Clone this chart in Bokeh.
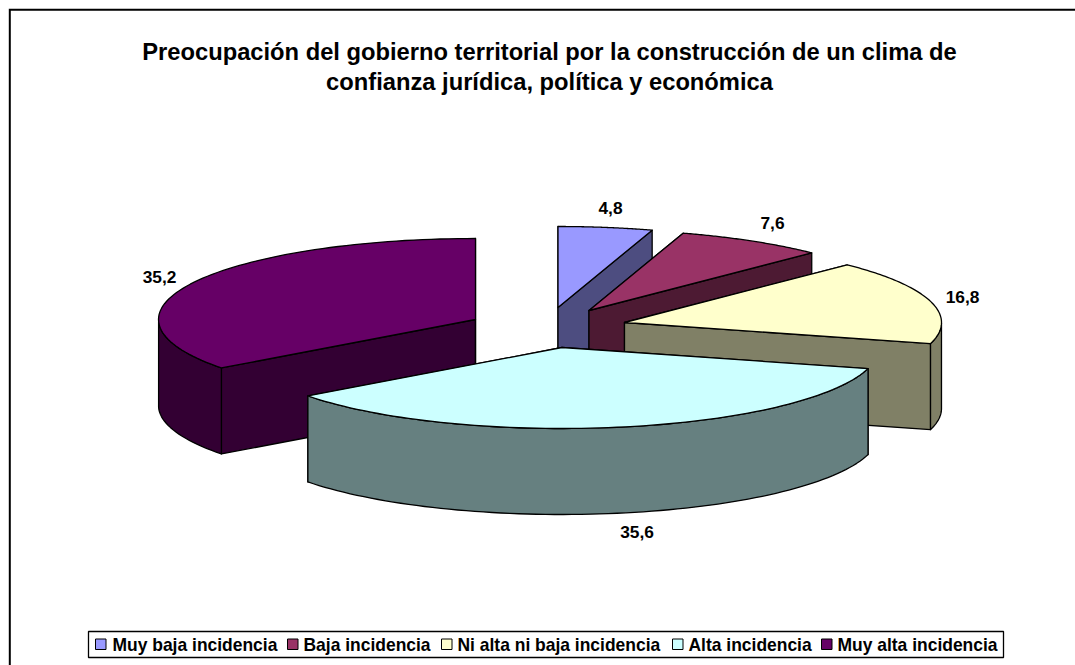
import numpy as np
from bokeh.plotting import figure
from bokeh.embed import file_html
from bokeh.resources import INLINE
from bokeh.models import Range1d
from bokeh.core.properties import value

categories = ["Muy baja incidencia", "Baja incidencia", "Ni alta ni baja incidencia", "Alta incidencia", "Muy alta incidencia"]
values = [4.8, 7.6, 16.8, 35.6, 35.2]
value_labels = ["4,8", "7,6", "16,8", "35,6", "35,2"]
colors = ["#9999FF", "#993366", "#FFFFCC", "#CCFFFF", "#660066"]
side_colors = ["#4D4D80", "#4D1A33", "#808066", "#668080", "#330033"]
title_lines = ["Preocupación del gobierno territorial por la construcción de un clima de",
               "confianza jurídica, política y económica"]

W, H = 1075, 665
FONT = "Liberation Sans"
p = figure(width=W, height=H, output_backend="svg", toolbar_location=None,
           x_range=Range1d(0, W), y_range=Range1d(H, 0), min_border=0)
p.axis.visible = False
p.grid.visible = False
p.outline_line_color = None

# frame: left and top edges only, as in the reference
p.line([9.3, 9.3, W], [H, 9.3, 9.3], line_color="black", line_width=2, line_join="miter")

RX, RY, DEPTH = 317, 81, 86
# apex of each exploded slice, in page pixels
apex = [(557.5, 307), (588.5, 310), (624, 322), (561.5, 347), (475, 319)]

cum = np.concatenate([[0], np.cumsum(values)])
cum = cum / cum[-1] * 2 * np.pi


def rim(i, n=80):
    t = np.linspace(cum[i], cum[i + 1], n)
    return apex[i][0] + RX * np.sin(t), apex[i][1] - RY * np.cos(t)


def slab(i, lw=1.3):
    ax, ay = apex[i]
    rx, ry = rim(i)
    fill = dict(fill_color=side_colors[i], line_color="black", line_width=lw, line_join="round")
    # radial cut faces
    for k in (0, -1):
        p.patch([ax, rx[k], rx[k], ax], [ay, ry[k], ry[k] + DEPTH, ay + DEPTH], **fill)
    # outer wall: only the part that faces the viewer
    t = np.linspace(cum[i], cum[i + 1], 80)
    vis = (t > np.pi / 2) & (t < 3 * np.pi / 2)
    if vis.any():
        wx, wy = rx[vis], ry[vis]
        p.patch(np.r_[wx, wx[::-1]], np.r_[wy, wy[::-1] + DEPTH], **fill)
    p.patch(np.r_[ax, rx], np.r_[ay, ry], fill_color=colors[i], line_color="black",
            line_width=lw, line_join="round")


for i in [0, 1, 4, 2, 3]:
    slab(i)

# data labels
label_x = [610, 772, 962, 636.5, 159]
label_y = [207, 222, 296, 531, 276]
p.text(label_x, label_y, text=value_labels, text_font=value(FONT), text_font_style="bold",
       text_font_size="13pt", text_align="center", text_baseline="middle", text_color="black")

# title
p.text([549, 549], [51, 81], text=title_lines, text_font=value(FONT), text_font_style="bold",
       text_font_size="17.8pt", text_align="center", text_baseline="middle", text_color="black")

# legend
p.quad(left=[88], right=[1003], top=[631], bottom=[657], fill_color="white", line_color="black", line_width=1.3)
sw_x = [95, 287, 441, 672, 821]
tx_x = [112, 303, 457, 688, 837]
p.quad(left=sw_x, right=[x + 10.5 for x in sw_x], top=[638.5] * 5, bottom=[649] * 5,
       fill_color=colors, line_color="black", line_width=1)
p.text(tx_x, [644] * 5, text=categories, text_font=value(FONT), text_font_style="bold",
       text_font_size="13.1pt", text_align="left", text_baseline="middle", text_color="black")

open("out.html", "w").write(file_html(p, INLINE))
